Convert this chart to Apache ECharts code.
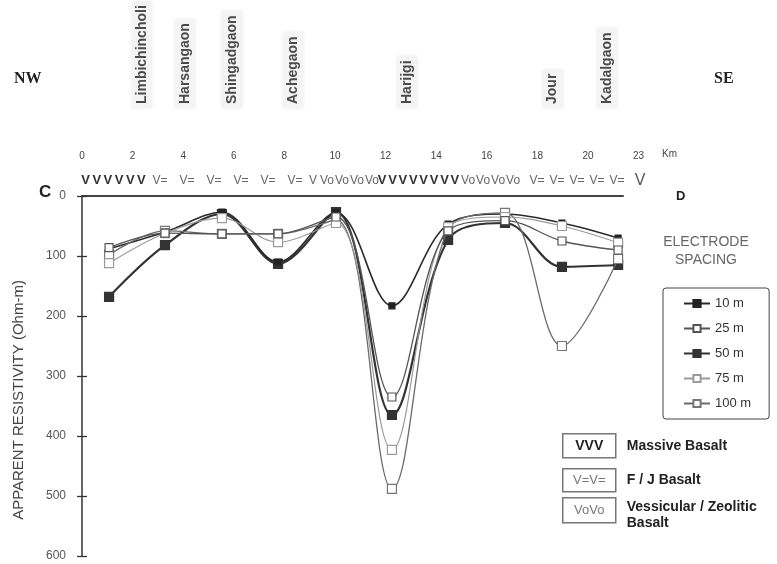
<!DOCTYPE html>
<html>
<head>
<meta charset="utf-8">
<script src="https://cdn.jsdelivr.net/npm/echarts@6/dist/echarts.min.js"></script>
<style>
  html, body { margin: 0; padding: 0; background: #ffffff; }
  #chart { width: 777px; height: 564px; }
</style>
</head>
<body>
<div id="chart"></div>
<script>
// VES stations along the NW-SE profile (distance in km)
const stationKm = [1.07, 3.28, 5.53, 7.75, 10.04, 12.25, 14.47, 16.72, 18.97, 21.19];

// Apparent resistivity (Ohm-m) for each electrode spacing
const spacingNames = ['10 m', '25 m', '50 m', '75 m', '100 m'];
const rho10  = [88, 60, 27, 110, 28, 183, 47, 30, 45, 70];
const rho25  = [86, 62, 63, 63, 35, 335, 58, 41, 75, 90];
const rho50  = [168, 82, 30, 113, 27, 365, 73, 45, 118, 115];
const rho75  = [112, 62, 37, 77, 45, 423, 52, 35, 50, 78];
const rho100 = [98, 58, 63, 63, 40, 488, 55, 28, 250, 105];

// Distance tick labels along the profile
const kmTicks = [0, 2, 4, 6, 8, 10, 12, 14, 16, 18, 20, 22];
const kmLabels = ['0', '2', '4', '6', '8', '10', '12', '14', '16', '18', '20', '23'];

// Resistivity tick values
const rhoTicks = [0, 100, 200, 300, 400, 500, 600];

// Villages on the profile
const villageNames = ['Limbichincholi', 'Harsangaon', 'Shingadgaon', 'Achegaon', 'Harijgi', 'Jour', 'Kadalgaon'];
const villageKm = [2.37, 4.07, 5.93, 8.34, 12.85, 18.6, 20.75];

// Basalt units encountered along the profile
const lithoSymbols = ['V', 'V=', 'V', 'Vo', 'V', 'Vo', 'V=', 'V'];
const lithoKinds = ['massive', 'flow', 'flow', 'vesicular', 'massive', 'vesicular', 'flow', 'end'];
const lithoCounts = [6, 6, 1, 4, 8, 4, 5, 1];
const lithoFromKm = [0.14, 3.08, 9.13, 9.68, 11.86, 15.26, 17.98, 22.06];
const lithoToKm = [2.35, 8.42, 9.13, 11.46, 14.74, 17.04, 21.15, 22.06];

// Key for the basalt units
const lithoKeySymbols = ['VVV', 'V=V=', 'VoVo'];
const lithoKeyNames = ['Massive Basalt', 'F / J Basalt', 'Vessicular / Zeolitic\nBasalt'];

// Expand the unit segments into individual symbols
const lithoPoints = [];
lithoSymbols.forEach(function (sym, i) {
  const n = lithoCounts[i];
  for (let k = 0; k < n; k++) {
    const km = n === 1 ? lithoFromKm[i] : lithoFromKm[i] + (lithoToKm[i] - lithoFromKm[i]) * k / (n - 1);
    lithoPoints.push({ km: km, sym: sym, kind: lithoKinds[i] });
  }
});

const seriesStyle = [
  { line: '#2a2a2a', width: 1.6, fill: '#222222', border: '#222222', size: 6 },
  { line: '#555555', width: 1.3, fill: '#ffffff', border: '#555555', size: 8 },
  { line: '#333333', width: 2.2, fill: '#333333', border: '#333333', size: 9 },
  { line: '#9a9a9a', width: 1.2, fill: '#ffffff', border: '#9a9a9a', size: 9 },
  { line: '#6a6a6a', width: 1.3, fill: '#ffffff', border: '#777777', size: 9 }
];
const seriesValues = [rho10, rho25, rho50, rho75, rho100];
const drawOrder = [2, 0, 4, 3, 1];

const FONT = 'Liberation Sans, Arial, sans-serif';
const KM_PX = 25.3;   // pixels per km on both profile grids
const LEFT = 82;

const lineSeries = drawOrder.map(function (idx, z) {
  const st = seriesStyle[idx];
  return {
    name: spacingNames[idx],
    type: 'line',
    xAxisIndex: 0,
    yAxisIndex: 0,
    smooth: 0.35,
    z: 3 + z,
    data: stationKm.map(function (km, j) { return [km, seriesValues[idx][j]]; }),
    symbol: 'rect',
    symbolSize: st.size,
    showAllSymbol: true,
    lineStyle: { color: st.line, width: st.width },
    itemStyle: { color: st.fill, borderColor: st.border, borderWidth: 1.2 }
  };
});

const chart = echarts.init(document.getElementById('chart'), null, { renderer: 'canvas' });

chart.setOption({
  animation: false,
  backgroundColor: '#ffffff',
  textStyle: { fontFamily: FONT },
  grid: [
    { left: LEFT, top: 196, width: 541, height: 360 },
    { left: LEFT, top: 165, width: 22 * KM_PX, height: 31 },
    { left: LEFT, top: 5, width: 22 * KM_PX, height: 103 }
  ],
  xAxis: [
    {
      gridIndex: 0, type: 'value', position: 'top', min: 0, max: 541 / KM_PX,
      axisLine: { show: true, lineStyle: { color: '#444444', width: 2 } },
      axisTick: { show: false }, axisLabel: { show: false }, splitLine: { show: false }
    },
    {
      gridIndex: 1, type: 'value', position: 'top', min: 0, max: 22,
      interval: 2,
      axisLine: { show: false }, axisTick: { show: false }, splitLine: { show: false },
      axisLabel: {
        margin: 4, color: '#444444', fontSize: 10, fontFamily: FONT,
        formatter: function (v) { const i = kmTicks.indexOf(v); return i >= 0 ? kmLabels[i] : ''; }
      }
    },
    { gridIndex: 2, type: 'value', min: 0, max: 22, show: false }
  ],
  yAxis: [
    {
      gridIndex: 0, type: 'value', position: 'left', inverse: true,
      min: rhoTicks[0], max: rhoTicks[rhoTicks.length - 1], interval: 100,
      axisLine: { show: true, lineStyle: { color: '#333333', width: 1.5 } },
      axisTick: { show: true, length: 5, lineStyle: { color: '#333333', width: 1.3 } },
      splitLine: { show: false },
      axisLabel: { color: '#555555', fontSize: 12, margin: 16, fontFamily: FONT },
      name: 'APPARENT RESISTIVITY (Ohm-m)', nameLocation: 'middle', nameGap: 56, nameRotate: 90,
      nameTextStyle: { color: '#444444', fontSize: 15, fontFamily: FONT, padding: [0, 48, 0, 0] }
    },
    { gridIndex: 1, type: 'value', min: 0, max: 1, show: false },
    { gridIndex: 2, type: 'value', min: 0, max: 1, show: false },
    {
      gridIndex: 0, type: 'value', position: 'left', offset: 0, inverse: true, min: 0, max: 600, interval: 100,
      axisLine: { show: false }, axisLabel: { show: false }, splitLine: { show: false },
      axisTick: { show: true, inside: true, length: 5, lineStyle: { color: '#333333', width: 1.3 } }
    }
  ],
  legend: {
    data: spacingNames,
    orient: 'vertical',
    left: 663,
    top: 288,
    itemWidth: 26,
    itemHeight: 9,
    itemGap: 12,
    padding: [9, 18, 9, 20],
    borderColor: '#444444',
    borderWidth: 1,
    borderRadius: 3,
    textStyle: { color: '#333333', fontSize: 13, fontFamily: FONT }
  },
  series: lineSeries.concat([
    {
      // basalt unit symbols along the profile
      type: 'custom',
      xAxisIndex: 1,
      yAxisIndex: 1,
      silent: true,
      data: lithoPoints.map(function (p) { return [p.km, 0.5]; }),
      renderItem: function (params, api) {
        const p = lithoPoints[params.dataIndex];
        const pt = api.coord([api.value(0), api.value(1)]);
        let style;
        if (p.kind === 'massive') {
          style = { fill: '#333333', fontSize: 13, fontWeight: 'bold' };
        } else if (p.kind === 'end') {
          style = { fill: '#555555', fontSize: 16, fontWeight: 'normal' };
        } else {
          style = { fill: '#666666', fontSize: 12, fontWeight: 'normal' };
        }
        return {
          type: 'text',
          x: pt[0], y: pt[1],
          style: {
            text: p.sym, fill: style.fill, fontSize: style.fontSize, fontWeight: style.fontWeight,
            fontFamily: FONT, align: 'center', verticalAlign: 'middle'
          }
        };
      }
    },
    {
      // village names, written upward
      type: 'custom',
      xAxisIndex: 2,
      yAxisIndex: 2,
      silent: true,
      data: villageKm.map(function (km) { return [km, 0]; }),
      renderItem: function (params, api) {
        const pt = api.coord([api.value(0), api.value(1)]);
        return {
          type: 'text',
          x: pt[0], y: pt[1],
          rotation: Math.PI / 2,
          style: {
            text: villageNames[params.dataIndex], fill: '#4a4a4a', fontSize: 14, fontWeight: 'bold',
            fontFamily: FONT, align: 'left', verticalAlign: 'middle',
            backgroundColor: '#f4f4f4', padding: [3, 4, 3, 4],
            shadowColor: 'rgba(0,0,0,0.08)', shadowBlur: 4
          }
        };
      }
    }
  ]),
  graphic: [
    { type: 'text', left: 14, top: 71, style: { text: 'NW', fill: '#222222', font: 'bold 16px "Liberation Serif", serif' } },
    { type: 'text', left: 714, top: 71, style: { text: 'SE', fill: '#222222', font: 'bold 16px "Liberation Serif", serif' } },
    { type: 'text', left: 662, top: 149, style: { text: 'Km', fill: '#444444', font: '10px ' + FONT } },
    { type: 'text', left: 39, top: 184, style: { text: 'C', fill: '#222222', font: 'bold 17px ' + FONT } },
    { type: 'text', left: 676, top: 190, style: { text: 'D', fill: '#222222', font: 'bold 13px ' + FONT } },
    {
      type: 'text', x: 706, y: 251,
      style: { text: 'ELECTRODE\nSPACING', fill: '#666666', font: '14px ' + FONT, align: 'center', verticalAlign: 'middle', lineHeight: 18 }
    }
  ].concat(lithoKeySymbols.map(function (sym, i) {
    const tops = [433, 468, 497];
    const heights = [24, 23, 25];
    return {
      type: 'group', left: 562, top: tops[i],
      children: [
        { type: 'rect', shape: { x: 0, y: 0, width: 53, height: heights[i] }, style: { fill: '#ffffff', stroke: '#777777', lineWidth: 1.5 } },
        {
          type: 'text', x: 26.5, y: heights[i] / 2,
          style: {
            text: sym, align: 'center', verticalAlign: 'middle',
            fill: i === 0 ? '#222222' : '#777777',
            font: (i === 0 ? 'bold 14px ' : '13px ') + FONT
          }
        },
        {
          type: 'text', x: 64, y: i === 2 ? 17 : heights[i] / 2,
          style: {
            text: lithoKeyNames[i], align: 'left', verticalAlign: 'middle', lineHeight: 16,
            fill: '#222222', font: 'bold 14px ' + FONT
          }
        }
      ]
    };
  }))
});
</script>
</body>
</html>
